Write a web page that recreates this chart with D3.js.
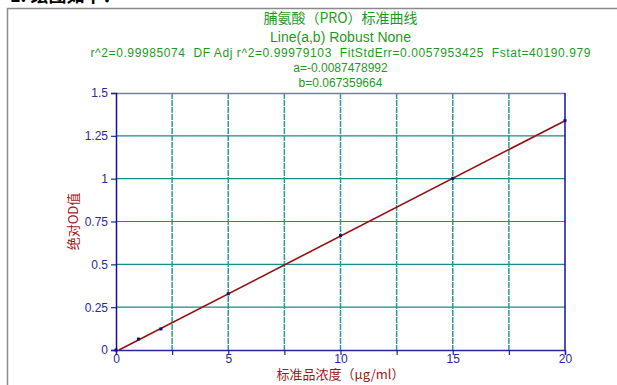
<!DOCTYPE html>
<html>
<head>
<meta charset="utf-8">
<script src="https://cdn.jsdelivr.net/npm/d3@7"></script>
<style>
  body { margin: 0; background: #fff; }
  svg { display: block; font-family: "Liberation Sans", Arial, sans-serif; }
  .title { white-space: pre; }
</style>
</head>
<body>
<div id="chart"></div>
<script>
// standard curve data (concentration vs OD)
const concentrations = [0, 1, 2, 5, 10, 15, 20];
const odValues = [0, 0.064, 0.123, 0.328, 0.668, 1.002, 1.339];
const fitA = -0.0087478992, fitB = 0.067359664;
const xTicks = [0, 5, 10, 15, 20];
const xGrid = [2.5, 5, 7.5, 10, 12.5, 15, 17.5];
const yTicks = [0, 0.25, 0.5, 0.75, 1, 1.25, 1.5];
const titleLines = [
  "脯氨酸（PRO）标准曲线",
  "Line(a,b) Robust None",
  "r^2=0.99985074  DF Adj r^2=0.99979103  FitStdErr=0.0057953425  Fstat=40190.979",
  "a=-0.0087478992",
  "b=0.067359664"
];

const W = 617, H = 385;
const margin = { top: 93, right: 52, bottom: 35, left: 116 };
const w = W - margin.left - margin.right, h = H - margin.top - margin.bottom;

const svg = d3.select("#chart").append("svg").attr("width", W).attr("height", H);

// cut-off heading and the page frame
svg.append("text").attr("x", 10).attr("y", 2).attr("font-size", 18).attr("font-weight", "bold")
  .attr("font-family", "'Noto Sans CJK SC'").attr("fill", "#000").text("1. 绘图如下：");
svg.append("path").attr("d", `M7.5,${H} V8.5 H${W}`).attr("fill", "none").attr("stroke", "#8a8a8a").attr("stroke-width", 1.5);

const g = svg.append("g").attr("transform", `translate(${margin.left},${margin.top})`);
const x = d3.scaleLinear().domain([0, 20]).range([0, w]);
const y = d3.scaleLinear().domain([0, 1.5]).range([h, 0]);

// titles
const titleY = [23, 42, 57, 72, 87], titleSize = [14, 14, 12, 12, 12];
svg.selectAll(".title").data(titleLines).enter().append("text")
  .attr("class", "title")
  .attr("x", margin.left + w / 2)
  .attr("y", (d, i) => titleY[i])
  .attr("text-anchor", "middle")
  .attr("font-size", (d, i) => titleSize[i])
  .attr("font-family", (d, i) => i === 0 ? "'Noto Sans CJK SC', sans-serif" : null)
  .attr("fill", "#1f9a1f")
  .each(function (d, i) { if (i === 2) d3.select(this).attr("textLength", 500).attr("lengthAdjust", "spacing"); })
  .text(d => d);

// grid
g.selectAll(".hgrid").data(yTicks.filter(d => d > 0 && d < 1.5)).enter().append("line")
  .attr("x1", 0).attr("x2", w).attr("y1", d => y(d)).attr("y2", d => y(d))
  .attr("stroke", "#1a8a8a").attr("stroke-width", 1.2);
g.selectAll(".vgrid").data(xGrid).enter().append("line")
  .attr("x1", d => x(d)).attr("x2", d => x(d)).attr("y1", 0).attr("y2", h)
  .attr("stroke", "#2a9a9a").attr("stroke-width", 1.5).attr("stroke-dasharray", "6,1");

// frame lines
g.append("line").attr("x1", 0).attr("x2", w).attr("y1", 0.5).attr("y2", 0.5).attr("stroke", "#7878c8").attr("stroke-width", 1.5);
g.append("line").attr("x1", w).attr("x2", w).attr("y1", 0).attr("y2", h).attr("stroke", "#1010a0").attr("stroke-width", 1.5);

// axes
const xAxis = g.append("g").attr("transform", `translate(0,${h})`)
  .call(d3.axisBottom(x).tickValues(xGrid.concat([0, 20])).tickSize(5)
    .tickFormat(d => xTicks.includes(d) ? d : ""));
const yAxis = g.append("g")
  .call(d3.axisLeft(y).tickValues(yTicks).tickSize(5).tickFormat(d3.format("")));
[xAxis, yAxis].forEach(a => {
  a.select(".domain").attr("stroke", "#2424a0").attr("stroke-width", 1.5);
  a.selectAll(".tick line").attr("stroke", "#2424a0").attr("stroke-width", 1.2);
  a.selectAll(".tick text").attr("fill", "#2a2aa0").attr("font-size", 12)
    .attr("font-family", "'Liberation Sans', Arial, sans-serif");
});
xAxis.selectAll(".tick text").attr("y", 4).attr("dy", "0.71em");
yAxis.select(".domain").attr("stroke", "#10108a");

// fitted line
const x0 = -fitA / fitB;
g.append("line")
  .attr("x1", x(x0)).attr("y1", y(0))
  .attr("x2", x(20)).attr("y2", y(fitA + fitB * 20))
  .attr("stroke", "#9a1010").attr("stroke-width", 1.6);

// points
g.selectAll(".pt").data(concentrations).enter().append("rect")
  .attr("x", (d) => x(d) - 1.5).attr("y", (d, i) => y(odValues[i]) - 1.5)
  .attr("width", 3).attr("height", 3).attr("fill", "#101070");

// axis titles
svg.append("text").attr("x", margin.left + w / 2).attr("y", 379)
  .attr("text-anchor", "middle").attr("font-size", 13).attr("fill", "#a01818")
  .attr("font-family", "'Noto Sans CJK SC', sans-serif")
  .text("标准品浓度（μg/ml）");
svg.append("text").attr("transform", `translate(78,${margin.top + y(0.75)}) rotate(-90)`)
  .attr("text-anchor", "middle").attr("font-size", 13).attr("fill", "#a01818")
  .attr("font-family", "'Noto Sans CJK SC', sans-serif")
  .text("绝对OD值");
</script>
</body>
</html>
